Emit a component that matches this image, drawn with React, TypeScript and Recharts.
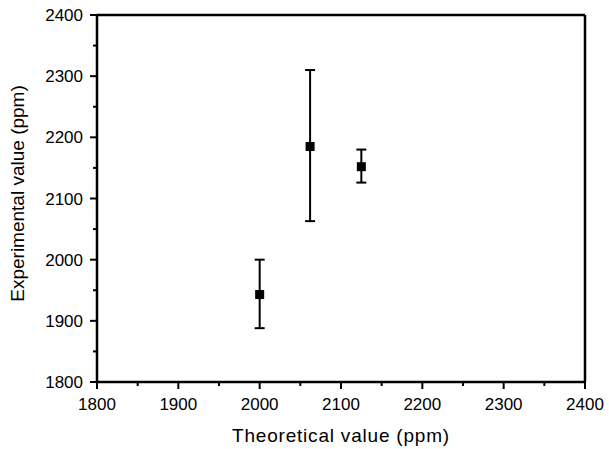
import { ScatterChart, Scatter, XAxis, YAxis, ErrorBar, ReferenceLine, Label } from 'recharts';

const theoretical = [2000, 2062, 2125];
const experimental = [1943, 2185, 2152];
const errLow = [1888, 2063, 2126];
const errHigh = [2000, 2310, 2180];

const xTicks = [1800, 1850, 1900, 1950, 2000, 2050, 2100, 2150, 2200, 2250, 2300, 2350, 2400];
const yTicks = [1800, 1850, 1900, 1950, 2000, 2050, 2100, 2150, 2200, 2250, 2300, 2350, 2400];

const data = theoretical.map((x, i) => ({
  x,
  y: experimental[i],
  err: [experimental[i] - errLow[i], errHigh[i] - experimental[i]],
}));

const font = '"Liberation Sans", Arial, sans-serif';

const XTick = ({ x, y, payload }: any) => {
  const major = payload.value % 100 === 0;
  return (
    <g>
      <line x1={x} x2={x} y1={y} y2={y + (major ? 7 : 4)} stroke="#000" strokeWidth={2} />
      {major && (
        <text x={x} y={y + 28} textAnchor="middle" fontSize={17} fontFamily={font} fill="#000">
          {payload.value}
        </text>
      )}
    </g>
  );
};

const YTick = ({ x, y, payload }: any) => {
  const major = payload.value % 100 === 0;
  return (
    <g>
      <line x1={x} x2={x - (major ? 7 : 4)} y1={y} y2={y} stroke="#000" strokeWidth={2} />
      {major && (
        <text x={x - 14} y={y + 6} textAnchor="end" fontSize={17} fontFamily={font} fill="#000">
          {payload.value}
        </text>
      )}
    </g>
  );
};

const Square = ({ cx, cy }: any) => <rect x={cx - 4.5} y={cy - 4.5} width={9} height={9} fill="#000" />;

export default function App() {
  return (
    <div style={{ position: 'absolute', left: 0, top: 0, background: '#fff' }}>
      <ScatterChart width={609} height={449} margin={{ top: 15, right: 24, bottom: 0, left: 0 }}>
        <XAxis
          type="number"
          dataKey="x"
          domain={[1800, 2400]}
          ticks={xTicks}
          interval={0}
          height={67}
          tickSize={0}
          tickMargin={0}
          tickLine={false}
          tick={<XTick />}
          axisLine={{ stroke: '#000', strokeWidth: 2.5 }}
        >
          <Label
            content={({ viewBox }: any) => (
              <text
                x={viewBox.x + viewBox.width / 2}
                y={viewBox.y + 60}
                textAnchor="middle"
                fontSize={19}
                letterSpacing={0.8}
                fontFamily={font}
                fill="#000"
              >
                Theoretical value (ppm)
              </text>
            )}
          />
        </XAxis>
        <YAxis
          type="number"
          dataKey="y"
          domain={[1800, 2400]}
          ticks={yTicks}
          interval={0}
          width={97}
          tickSize={0}
          tickMargin={0}
          tickLine={false}
          tick={<YTick />}
          axisLine={{ stroke: '#000', strokeWidth: 2.5 }}
        >
          <Label
            content={({ viewBox }: any) => {
              const cx = viewBox.x + 24;
              const cy = viewBox.y + viewBox.height / 2 - 5;
              return (
                <text
                  x={cx}
                  y={cy}
                  transform={`rotate(-90, ${cx}, ${cy})`}
                  textAnchor="middle"
                  fontSize={19}
                  fontFamily={font}
                  fill="#000"
                >
                  Experimental value (ppm)
                </text>
              );
            }}
          />
        </YAxis>
        <ReferenceLine y={2400} stroke="#000" strokeWidth={2.5} />
        <ReferenceLine x={2400} stroke="#000" strokeWidth={2.5} />
        <Scatter data={data} shape={<Square />} isAnimationActive={false}>
          <ErrorBar dataKey="err" direction="y" width={5} stroke="#000" strokeWidth={2} isAnimationActive={false} />
        </Scatter>
      </ScatterChart>
    </div>
  );
}
